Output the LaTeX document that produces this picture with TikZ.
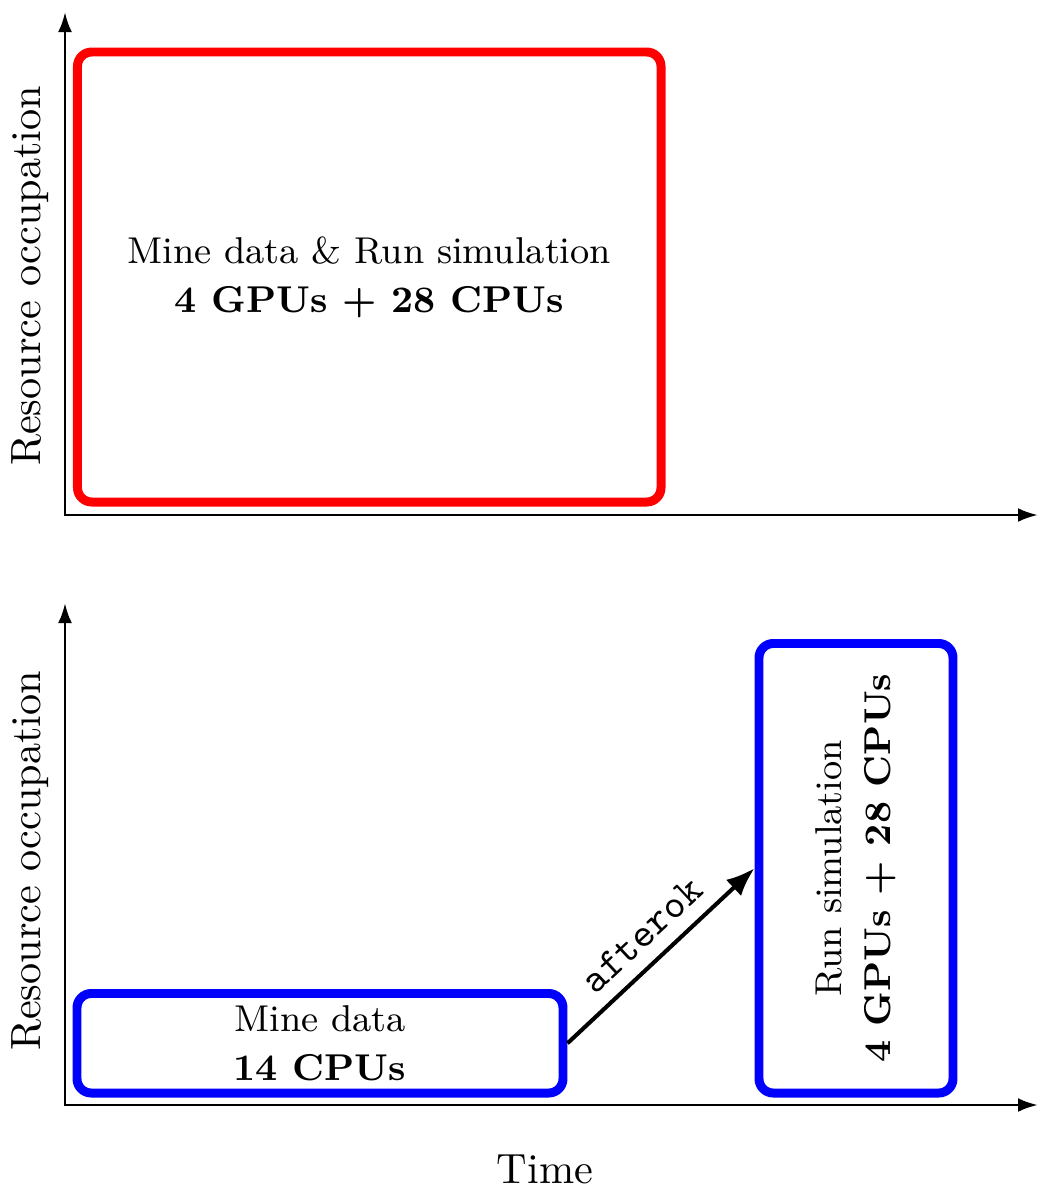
\documentclass[tikz,border=0pt]{standalone}
\usetikzlibrary{arrows.meta}
\begin{document}
\begin{tikzpicture}[x=0.245pt,y=-0.245pt,
  axis/.style={line width=0.7pt,{Latex[length=4.9pt,width=3.4pt]}-{Latex[length=4.9pt,width=3.4pt]}},
  job/.style={draw,line width=2.2pt,rounded corners=3.5pt,inner sep=0pt,align=center,font=\fontsize{9.15}{12}\selectfont},
  dep/.style={line width=1pt,-{Latex[length=7pt,width=5.4pt]}},
  lab/.style={inner sep=0pt,font=\fontsize{10.35}{12}\selectfont}]
\useasboundingbox (0,0) rectangle (1053,1198);
% top panel
\coordinate (ty) at (65,12);
\coordinate (to) at (65,515);
\coordinate (tx) at (1038,515);
\draw[axis] (ty) -- (to) -- (tx);
\node[lab,rotate=90] (tyl) at (30,276) {Resource occupation};
\node[job,draw=red,minimum width=142.96pt,minimum height=110.25pt] (both) at (369.25,277)
  {Mine data \& Run simulation\\\textbf{4 GPUs + 28 CPUs}};
% bottom panel
\coordinate (by) at (65,603);
\coordinate (bo) at (65,1105);
\coordinate (bx) at (1038,1105);
\draw[axis] (by) -- (bo) -- (bx);
\node[lab,rotate=90] (byl) at (30,861) {Resource occupation};
\node[lab] (time) at (545,1169) {Time};
\node[job,draw=blue,minimum width=119.07pt,minimum height=24.38pt] (mine) at (320,1043.25)
  {Mine data\\\textbf{14 CPUs}};
\node[job,draw=blue,rotate=90,minimum width=110.13pt,minimum height=47.53pt] (sim) at (856,868.25)
  {Run simulation\\\textbf{4 GPUs + 28 CPUs}};
\draw[dep] (mine.east) -- node[midway,above,sloped]{\ttfamily afterok} (sim.north);
\end{tikzpicture}
\end{document}
